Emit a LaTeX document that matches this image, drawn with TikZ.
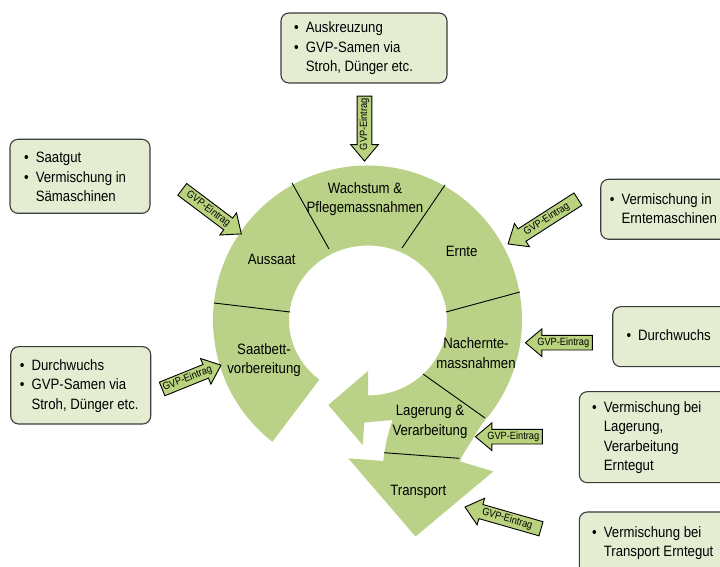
\documentclass[tikz,border=0pt]{standalone}
\usepackage{fontspec}
\setmainfont{Liberation Sans}[FakeStretch=0.88]
\usetikzlibrary{shapes.arrows,calc}
\definecolor{ringgreen}{RGB}{185,210,135}
\definecolor{arrowgreen}{RGB}{185,210,125}
\definecolor{boxfill}{RGB}{228,237,210}
\definecolor{boxline}{RGB}{60,60,60}
\tikzset{
  infobox/.style={draw=boxline, line width=1.1pt, fill=boxfill, rounded corners=8pt, inner sep=0pt, outer sep=0pt, anchor=south west},
  boxtext/.style={anchor=west, inner sep=0pt, font=\fontsize{15}{19.5}\selectfont, align=left},
  steplabel/.style={font=\fontsize{15}{19.5}\selectfont, align=center, inner sep=0pt},
  sepline/.style={line width=0.9pt, black},
  gvparrow/.style={single arrow, draw=black, line width=0.9pt, fill=arrowgreen,
    font=\fontsize{10.5}{12}\selectfont, inner xsep=1pt, inner ysep=2pt,
    single arrow head extend=6.5pt, single arrow tip angle=80, minimum height=#1, anchor=center},
}
\begin{document}
\begin{tikzpicture}[x=1pt,y=1pt]
\clip (0,0) rectangle (720,567);
\fill[white] (0,0) rectangle (720,567);

% ring with circular arrow and transport arrow
\coordinate (Co) at (367.5,247);
\fill[ringgreen] ($(Co)+(232:154.5)$) arc[start angle=232, end angle=-42, radius=154.5]
  -- (461.7,110.3) -- (460.3,105.5) -- (493.3,95.5) -- (415.5,30.5) -- (348.3,108.7)
  -- (383.3,106) .. controls (385.5,125) and (389,137) .. (392.7,147)
  -- (364.3,144.5) -- (362.7,122) -- (328.3,162) -- (368,196) -- (368,171.5)
  arc[start angle=-90, end angle=232, x radius=79, y radius=75] -- cycle;

% separators
\draw[sepline] (214,264) -- (290,255);
\draw[sepline] (292,384) -- (329,318);
\draw[sepline] (445,382) -- (402,319);
\draw[sepline] (520,275) -- (446,255);
\draw[sepline] (423,193) -- (485,149);
\draw[sepline] (384,114.3) -- (459.3,108.7);

% step labels
\node[steplabel] (wachstum) at (365,368) {Wachstum \&\\Pflegemassnahmen};
\node[steplabel] (ernte) at (461.7,316) {Ernte};
\node[steplabel] (aussaat) at (271.7,307.7) {Aussaat};
\node[steplabel] (saatbett) at (264,207) {Saatbett-\\vorbereitung};
\node[steplabel] (nachernte) at (476,214) {Nachernte-\\massnahmen};
\node[steplabel] (lagerung) at (430,145) {Lagerung \&\\Verarbeitung};
\node[steplabel] (transport) at (418.3,74.7) {Transport};

% info boxes
\node[infobox, minimum width=166pt, minimum height=70pt] (box1) at (281,484) {};
\node[boxtext] (txt1) at (294,518.5) {\begin{tabular}{@{}l@{\hspace{7pt}}l@{}}•&Auskreuzung\\•&GVP-Samen via\\&Stroh, Dünger etc.\end{tabular}};

\node[infobox, minimum width=140pt, minimum height=74pt] (box2) at (10,353.7) {};
\node[boxtext] (txt2) at (24,388.7) {\begin{tabular}{@{}l@{\hspace{7pt}}l@{}}•&Saatgut\\•&Vermischung in\\&Sämaschinen\end{tabular}};

\node[infobox, minimum width=140pt, minimum height=60pt] (box3) at (600.7,327.7) {};
\node[boxtext] (txt3) at (609.7,356.7) {\begin{tabular}{@{}l@{\hspace{7pt}}l@{}}•&Vermischung in\\&Erntemaschinen\end{tabular}};

\node[infobox, minimum width=130pt, minimum height=60pt] (box4) at (612.7,200.3) {};
\node[boxtext] (txt4) at (626.3,230.3) {\begin{tabular}{@{}l@{\hspace{7pt}}l@{}}•&Durchwuchs\end{tabular}};

\node[infobox, minimum width=140pt, minimum height=77.3pt] (box5) at (10.7,143) {};
\node[boxtext] (txt5) at (19.7,181) {\begin{tabular}{@{}l@{\hspace{7pt}}l@{}}•&Durchwuchs\\•&GVP-Samen via\\&Stroh, Dünger etc.\end{tabular}};

\node[infobox, minimum width=160pt, minimum height=91pt] (box6) at (579.3,84.3) {};
\node[boxtext] (txt6) at (592,129.5) {\begin{tabular}{@{}l@{\hspace{7pt}}l@{}}•&Vermischung bei\\&Lagerung,\\&Verarbeitung\\&Erntegut\end{tabular}};

\node[infobox, minimum width=160pt, minimum height=78pt] (box7) at (579.3,-23) {};
\node[boxtext] (txt7) at (592,23.7) {\begin{tabular}{@{}l@{\hspace{7pt}}l@{}}•&Vermischung bei\\&Transport Erntegut\end{tabular}};

% GVP-Eintrag arrows
\node[gvparrow=65pt, rotate=90, shape border rotate=180] (a1) at (364.5,442.8) {GVP-Eintrag};
\node[gvparrow=74pt, rotate=-37] (a2) at (208.3,358) {GVP-Eintrag};
\node[gvparrow=83pt, rotate=32.7, shape border rotate=180] (a3) at (546.7,347.8) {GVP-Eintrag};
\node[gvparrow=67pt, shape border rotate=180] (a4) at (563.3,224.3) {GVP-Eintrag};
\node[gvparrow=63pt, rotate=22] (a5) at (187.5,188.3) {GVP-Eintrag};
\node[gvparrow=67pt, shape border rotate=180] (a6) at (513.3,130.3) {GVP-Eintrag};
\node[gvparrow=79pt, rotate=-16, shape border rotate=180] (a7) at (507.2,47.9) {GVP-Eintrag};
\end{tikzpicture}
\end{document}
